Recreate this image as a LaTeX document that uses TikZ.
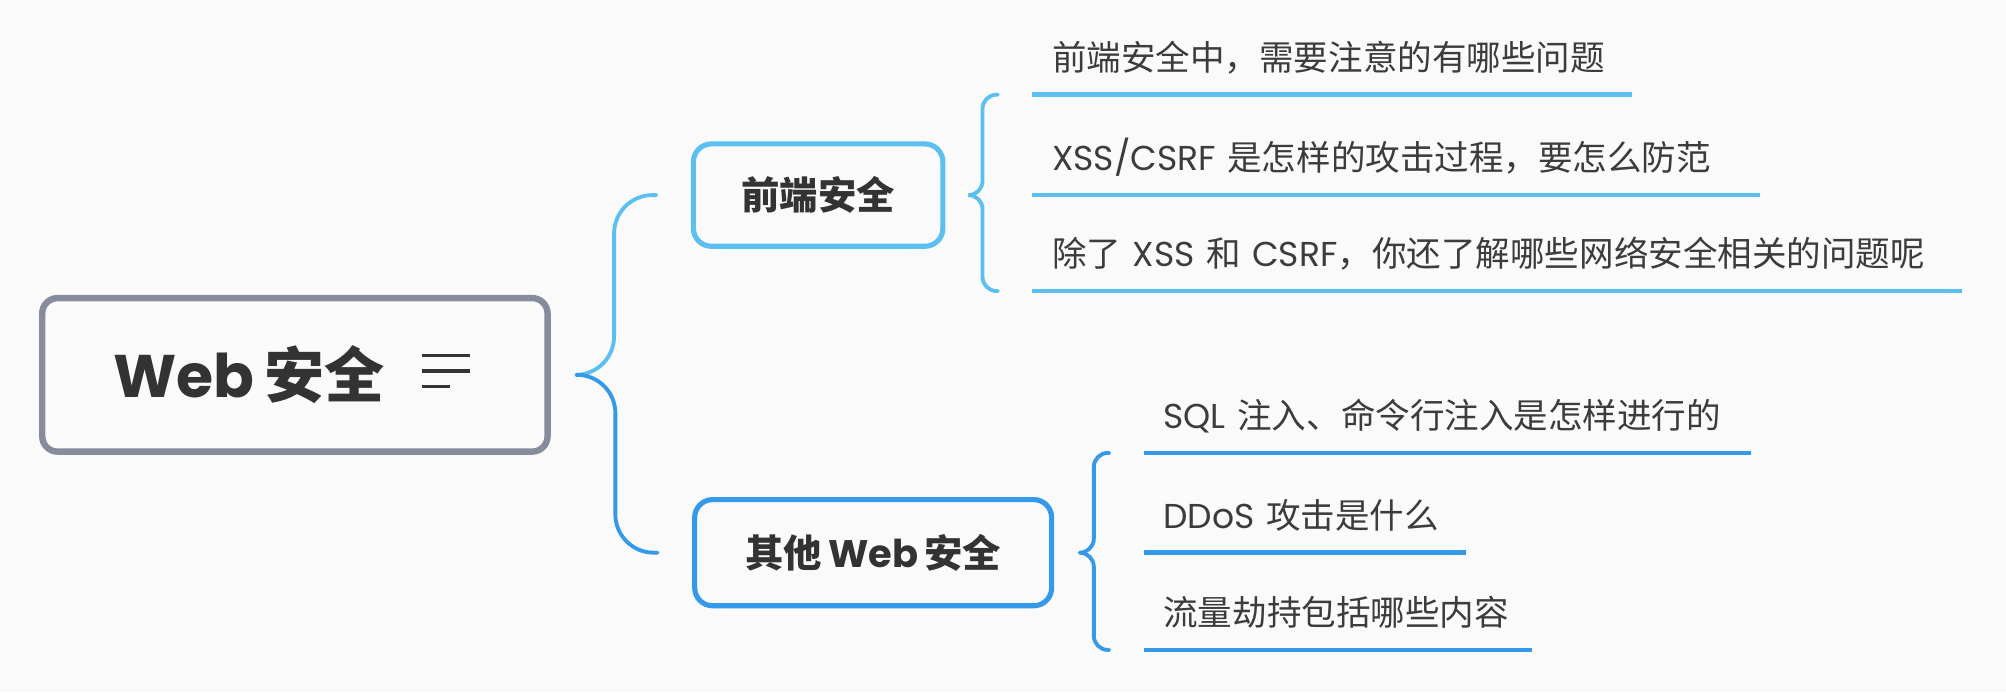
\documentclass[tikz,border=0pt]{standalone}
\usepackage{fontspec}
\setmainfont[WordSpace=0.7]{Noto Sans CJK SC}
\newfontfamily\latinfont{Poppins}
\newcommand{\en}[1]{{\latinfont #1}}
\usetikzlibrary{calc}

\definecolor{bggray}{HTML}{FAFAFA}
\definecolor{rootgray}{HTML}{878C9C}
\definecolor{lightblue}{HTML}{5BBFF0}
\definecolor{darkblue}{HTML}{3399E8}
\definecolor{textdark}{HTML}{333333}
\definecolor{leaftext}{HTML}{3C3C3C}

\begin{document}
\begin{tikzpicture}
[x=0.5pt, y=-0.5pt,
  rootDecorate/.style={draw=rootgray, line width=2.5pt, rounded corners=6pt,
    minimum width=197.5pt, minimum height=60pt, inner sep=0pt},%
  topicDecorate/.style={line width=2pt, rounded corners=7pt, inner sep=0pt,
    text=textdark, font=\bfseries\fontsize{15pt}{18pt}\selectfont},%
  leafDecorate/.style={anchor=south west, inner xsep=7.5pt, inner ysep=6.4pt,
    text height=10pt, text depth=3pt, align=left, text=leaftext,
    font=\fontsize{13.5pt}{16pt}\selectfont},%
  lineDecorate/.style={line width=1.8pt},%
  braceDecorate/.style={line width=1.5pt, line cap=round}]
\path[fill=bggray] (0,0) rectangle (1568,541);
%% root
\node (root) at (230.5,293) [rootDecorate] {};
\node (rootlabel) at (194.5,293)
  [text=textdark, font=\bfseries\fontsize{23.5pt}{28pt}\selectfont] {\en{Web} 安全};
\foreach \y/\len in {278/37, 290/37, 302/22}
  \draw[line width=1.4pt, textdark] (330,\y) -- ++(\len,0);
%% topics
\foreach \nodename/\x/\y/\w/\h/\col/\txt in {
  front/639.5/152.5/97.5/40/lightblue/前端安全,
  other/682.5/432/139.5/41.5/darkblue/其他 \en{Web} 安全}
{
  \node (\nodename) at (\x,\y) [topicDecorate, draw=\col,
    minimum width=\w pt, minimum height=\h pt] {\txt};
}
%% leaves
\foreach \nodename/\x/\y/\w/\col/\txt in {
  f1/807/74/219/lightblue/前端安全中，需要注意的有哪些问题,
  f2/807/152.5/269/lightblue/\en{XSS/CSRF} 是怎样的攻击过程，要怎么防范,
  f3/807/227.5/348/lightblue/除了 \en{XSS} 和 \en{CSRF}，你还了解哪些网络安全相关的问题呢,
  o1/894/354/222/darkblue/\en{SQL} 注入、命令行注入是怎样进行的,
  o2/894/432/110.5/darkblue/\en{DDoS} 攻击是什么,
  o3/894/508/136.5/darkblue/流量劫持包括哪些内容}
{
  \node (\nodename) at (\x,\y) [leafDecorate, text width=\w pt] {\mbox{\txt}};
  \draw[lineDecorate, draw=\col] (\nodename.south west) -- (\nodename.south east);
}
%% braces
\foreach \from/\to/\dx/\r/\col in {
  root.east/front.west/16.5/15/lightblue, root.east/other.west/16.5/15/darkblue,
  front.east/f1.south west/6/5.5/lightblue, front.east/f3.south west/6/5.5/lightblue,
  other.east/o1.south west/6/5.5/darkblue, other.east/o3.south west/6/5.5/darkblue}
{
  \draw[braceDecorate, draw=\col, rounded corners=\r pt]
    ([xshift=10pt]\from) -| ([xshift=-13.5pt-\dx pt]\to) -- ([xshift=-13.5pt]\to);
}
\end{tikzpicture}
\end{document}
